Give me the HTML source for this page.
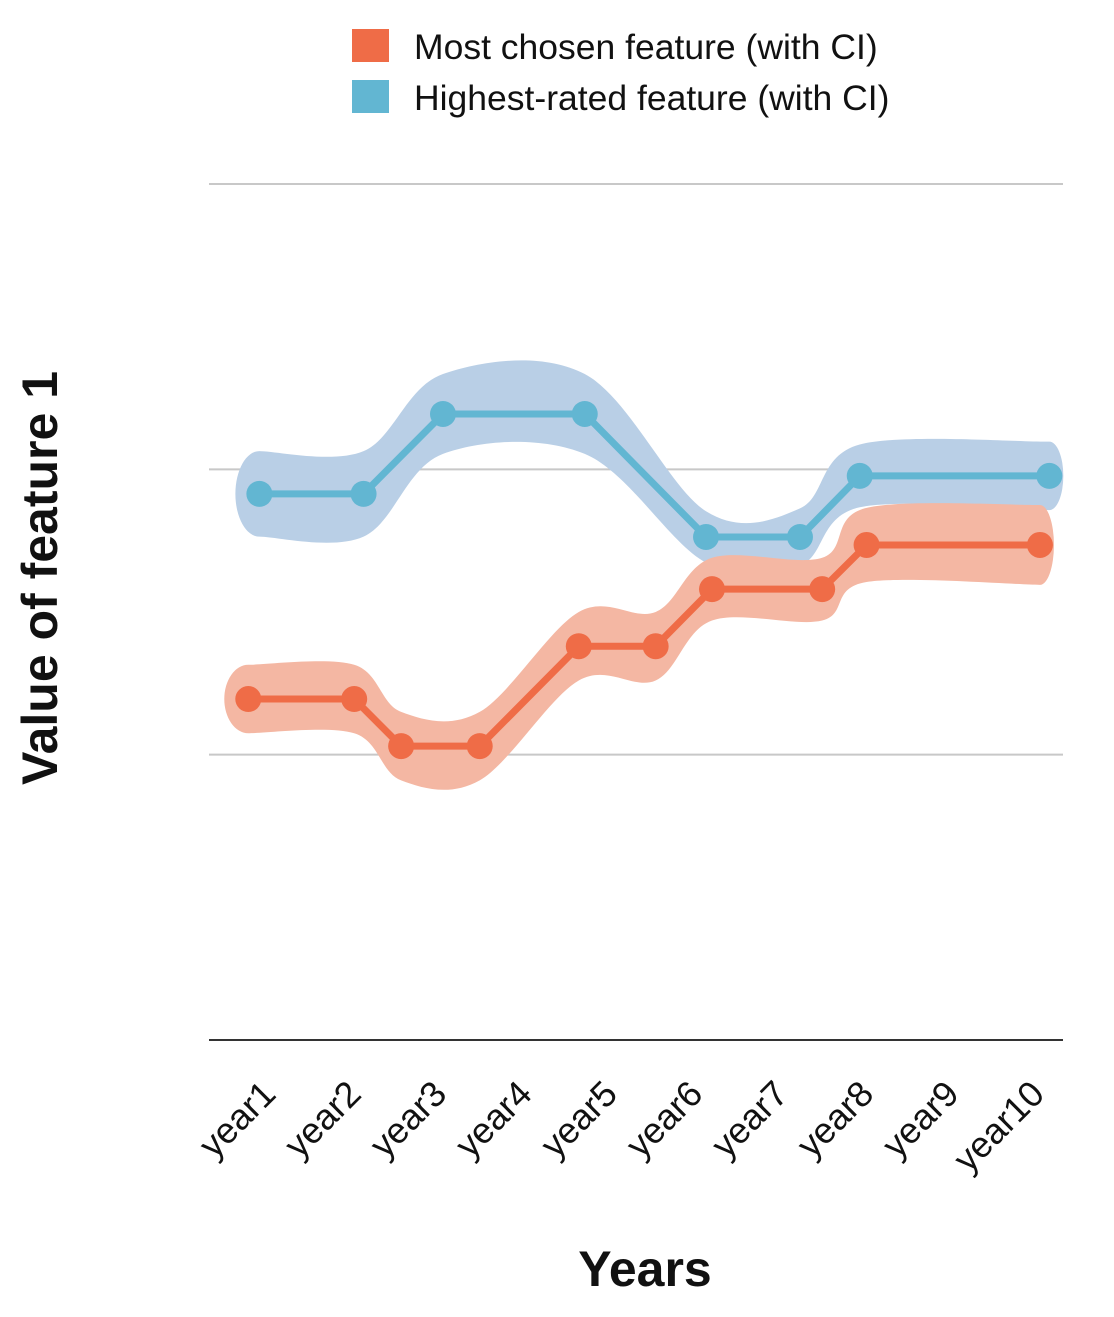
<!DOCTYPE html>
<html><head><meta charset="utf-8"><style>
body{margin:0;background:#fff;}
svg text{font-family:"Liberation Sans",sans-serif;}
</style></head><body>
<svg id="chart" width="1114" height="1312" viewBox="0 0 1114 1312" xmlns="http://www.w3.org/2000/svg">
<g>
<rect x="352" y="29" width="37" height="33" fill="#ef6c47"/>
<text x="414" y="59" font-size="35.5" fill="#111">Most chosen feature (with CI)</text>
<rect x="352" y="80" width="37" height="33" fill="#62b6d2"/>
<text x="414" y="110" font-size="35.5" fill="#111">Highest-rated feature (with CI)</text>
</g>
<g id="grid"></g>
<g id="bands"></g>
<g id="lines"></g>
<g id="xaxis"></g>
<text transform="translate(57,578) rotate(-90)" text-anchor="middle" font-size="50" font-weight="bold" fill="#111">Value of feature 1</text>
<text x="645" y="1286" text-anchor="middle" font-size="50" font-weight="bold" fill="#111">Years</text>
</svg>
<script>
const categories = ["year1","year2","year3","year4","year5","year6","year7","year8","year9","year10"];
const yTicks = [0,1,2,3];
const orangeX = [0.46,1.70,2.25,3.17,4.33,5.23,5.89,7.18,7.70,9.73];
const orangeY = [1.195,1.195,1.03,1.03,1.38,1.38,1.58,1.58,1.735,1.735];
const orangeCI = [0.12,0.12,0.12,0.12,0.12,0.12,0.11,0.11,0.13,0.14];
const blueX = [0.59,1.81,2.74,4.40,5.82,6.92,7.62,9.84];
const blueY = [1.914,1.914,2.194,2.194,1.763,1.763,1.977,1.977];
const blueCI = [0.15,0.15,0.14,0.14,0.09,0.1,0.11,0.12];

const svgNS="http://www.w3.org/2000/svg";
const X0=209,X1=1063,Y0=1040,Y1=184,YMAX=3;
const band=(X1-X0)/categories.length;
const xs=v=>X0+v*band;
const ys=v=>Y0-(v/YMAX)*(Y0-Y1);
function mk(tag,attrs,parent){const e=document.createElementNS(svgNS,tag);for(const k in attrs)e.setAttribute(k,attrs[k]);parent.appendChild(e);return e;}
function smooth(pts){let d=`M${pts[0][0]},${pts[0][1]}`;for(let i=0;i<pts.length-1;i++){const p0=pts[Math.max(i-1,0)],p1=pts[i],p2=pts[i+1],p3=pts[Math.min(i+2,pts.length-1)];const t=0.5/3;d+=` C${p1[0]+(p2[0]-p0[0])*t},${p1[1]+(p2[1]-p0[1])*t} ${p2[0]-(p3[0]-p1[0])*t},${p2[1]-(p3[1]-p1[1])*t} ${p2[0]},${p2[1]}`;}return d;}
const grid=document.getElementById('grid');
yTicks.forEach((t,i)=>{const l=mk('line',{x1:X0,x2:X1,y1:ys(t),y2:ys(t),stroke:i===0?'#333':'#c8c8c8','stroke-width':2},grid);

});
const bands=document.getElementById('bands'),lines=document.getElementById('lines');
function series(xv,yv,ci,bandColor,lineColor,name){
 const up=xv.map((x,i)=>[xs(x),ys(yv[i]+ci[i])]);
 const lo=xv.map((x,i)=>[xs(x),ys(yv[i]-ci[i])]).reverse();
 const r=(ys(0)-ys(ci[ci.length-1]));
 const r0=(ys(0)-ys(ci[0]));
 let d=smooth(up)+` A14,${r} 0 0 1 ${lo[0][0]},${lo[0][1]}`+smooth(lo).replace(/^M[^C]*/,'')+` A24,${r0} 0 0 1 ${up[0][0]},${up[0][1]}Z`;
 const p=mk('path',{d:d,fill:bandColor},bands);
 
 
 const pl=mk('polyline',{points:xv.map((x,i)=>xs(x)+','+ys(yv[i])).join(' '),fill:'none',stroke:lineColor,'stroke-width':7,'stroke-linejoin':'round'},lines);
 
 
 xv.forEach((x,i)=>{const c=mk('circle',{cx:xs(x),cy:ys(yv[i]),r:13,fill:lineColor},lines);
 
 });
}
series(blueX,blueY,blueCI,'#b9cfe6','#62b6d2','highest-rated');
series(orangeX,orangeY,orangeCI,'#f4b7a3','#ef6c47','most-chosen');
const xa=document.getElementById('xaxis');
categories.forEach((c,i)=>{const cx=xs(i+0.5)+26,cy=1096;
 const t=mk('text',{x:cx,y:cy,'text-anchor':'end','font-size':36,fill:'#111',transform:`rotate(-45 ${cx} ${cy})`},xa);
 t.textContent=c;
 
 });
</script>
</body></html>
